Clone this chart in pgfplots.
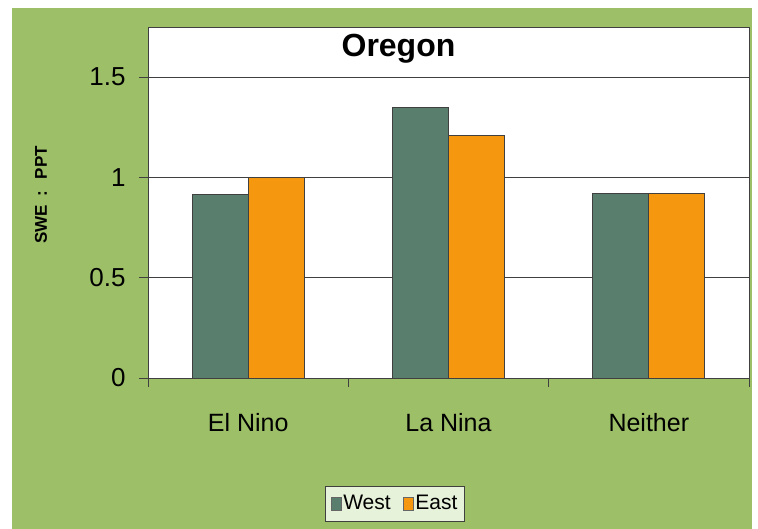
\documentclass[border=0pt]{standalone}
\usepackage{fontspec}
\setmainfont{Liberation Sans}
\usepackage{pgfplots}
\pgfplotsset{compat=1.18}
\definecolor{bg}{HTML}{9DBF68}
\definecolor{west}{HTML}{5A7E6E}
\definecolor{east}{HTML}{F5980F}
\definecolor{legbg}{HTML}{E6F2DA}
\definecolor{axisgray}{HTML}{404040}
\begin{document}
\begin{tikzpicture}[x=1pt,y=1pt]
\useasboundingbox (0,0) rectangle (758,529);
\fill[white] (0,0) rectangle (758,529);
\fill[bg] (12,0) rectangle (752,521);
\begin{axis}[
  at={(148pt,151pt)}, anchor=south west,
  width=601pt, height=351pt, scale only axis,
  ybar=0pt, bar width=56pt,
  xmin=-0.5, xmax=2.5, ymin=0, ymax=1.75,
  xtick={-0.5,0.5,1.5,2.5}, xticklabels={},
  extra x ticks={0,1,2}, extra x tick labels={El Nino, La Nina, Neither},
  extra x tick style={grid=none, major tick length=0pt},
  xtick pos=bottom, ytick pos=left,
  ytick={0,0.5,1,1.5},
  ymajorgrids, grid style={axisgray, line width=0.8pt},
  tick align=outside, major tick length=9pt,
  tick style={draw=axisgray, line width=0.8pt},
  axis line style={axisgray, line width=0.9pt},
  axis background/.style={fill=white},
  /pgf/number format/assume math mode=true,
  y tick label style={font=\fontsize{26}{26}\selectfont, xshift=-10pt},
  x tick label style={font=\fontsize{25}{25}\selectfont, yshift=-32pt},
  legend columns=2,
  legend style={at={(0.411,-0.359)}, anchor=center, draw=axisgray, line width=0.8pt, fill=legbg,
    font=\fontsize{21}{21}\selectfont, inner xsep=5pt, inner ysep=5pt,
    /tikz/every even column/.append style={column sep=10pt},
    nodes={inner xsep=2pt, inner ysep=3pt, text height=15pt, text depth=4pt}},
  legend image code/.code={\draw[#1, draw=black!60, line width=0.6pt] (-3pt,-6pt) rectangle (7pt,7pt);},
]
\addplot[fill=west, draw=black!75, line width=0.7pt] coordinates {(0,0.915) (1,1.348) (2,0.92)};
\addplot[fill=east, draw=black!75, line width=0.7pt] coordinates {(0,1.0) (1,1.209) (2,0.92)};
\legend{West, East}
\end{axis}
\node[font=\bfseries\fontsize{32}{32}\selectfont, anchor=base] at (398.5,472) {Oregon};
\node[rotate=90, font=\bfseries\fontsize{17}{17}\selectfont] at (41,334) {SWE\hspace{8pt}:\hspace{12pt}PPT};
\end{tikzpicture}
\end{document}
